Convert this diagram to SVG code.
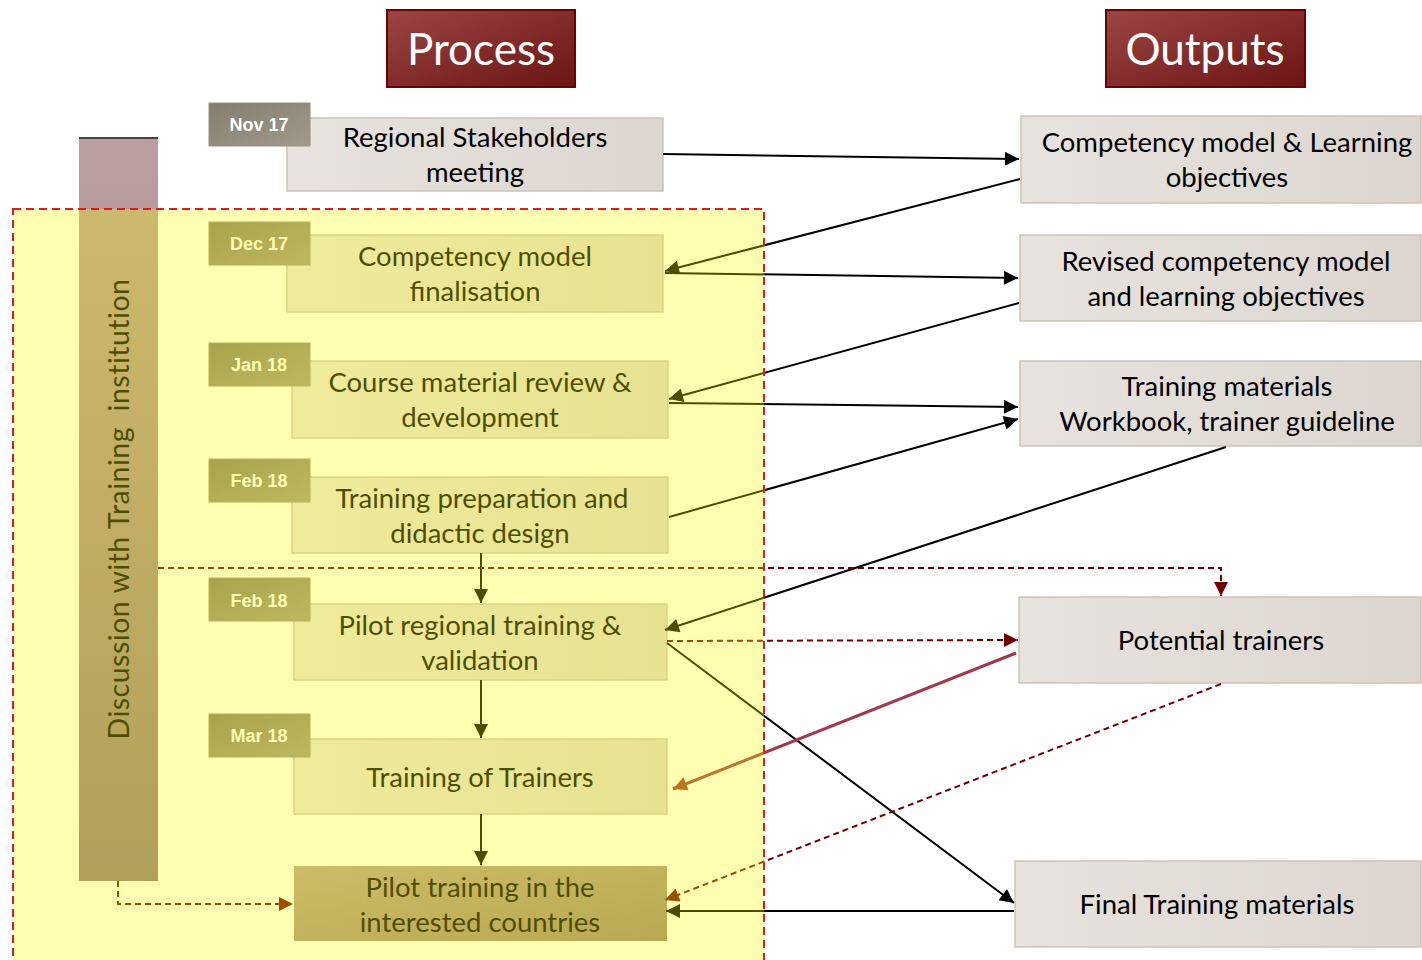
<svg xmlns="http://www.w3.org/2000/svg" width="1422" height="960" viewBox="0 0 1422 960">
<style>
.t{font-family:Lato,"Open Sans",sans-serif;font-size:27.5px;fill:#000;text-anchor:middle;}
.v{font-family:Lato,"Open Sans",sans-serif;font-size:28.5px;letter-spacing:0.5px;fill:#000;text-anchor:middle;white-space:pre;}
.h{font-family:Lato,"Open Sans",sans-serif;font-size:44px;fill:#fff;text-anchor:middle;}
.d{font-family:"Liberation Sans",Arial,sans-serif;font-size:18px;font-weight:bold;fill:#fff;text-anchor:middle;}
.box{fill:url(#gGray);stroke:#cbc3bb;stroke-width:1.5;}
.tag{fill:url(#gTag);stroke:#9a927f;stroke-width:1;}
.hdr{fill:url(#gRed);stroke:#6e0000;stroke-width:2;}
.c{fill:none;stroke:#000;stroke-width:2;}
.cd{fill:none;stroke:#700000;stroke-width:2;stroke-dasharray:6,4;}
</style>
<defs>
<linearGradient id="gGray" x1="0" y1="0" x2="1" y2="0"><stop offset="0" stop-color="#e8e3de"/><stop offset="1" stop-color="#ddd6d0"/></linearGradient>
<linearGradient id="gTag" x1="0" y1="0" x2="1" y2="1"><stop offset="0" stop-color="#847c6c"/><stop offset="1" stop-color="#a29a8a"/></linearGradient>
<linearGradient id="gRed" x1="0" y1="0" x2="1" y2="1"><stop offset="0" stop-color="#9c4545"/><stop offset="1" stop-color="#6a1414"/></linearGradient>
<linearGradient id="gBar" x1="0" y1="0" x2="0" y2="1"><stop offset="0" stop-color="#bc9fa0"/><stop offset="1" stop-color="#917780"/></linearGradient>
<linearGradient id="gGold" x1="0" y1="0" x2="1" y2="1"><stop offset="0" stop-color="#b8a094"/><stop offset="1" stop-color="#9a8474"/></linearGradient>
<marker id="aB" viewBox="0 0 10 10" refX="10" refY="5" markerWidth="16" markerHeight="14" markerUnits="userSpaceOnUse" orient="auto"><path d="M0,0 L10,5 L0,10 z" fill="#000"/></marker>
<marker id="aR" viewBox="0 0 10 10" refX="10" refY="5" markerWidth="16" markerHeight="14" markerUnits="userSpaceOnUse" orient="auto"><path d="M0,0 L10,5 L0,10 z" fill="#700000"/></marker>
<marker id="aP" viewBox="0 0 10 10" refX="10" refY="5" markerWidth="16" markerHeight="14" markerUnits="userSpaceOnUse" orient="auto"><path d="M0,0 L10,5 L0,10 z" fill="#a03a2a"/></marker>
</defs>
<rect width="1422" height="960" fill="#fff"/>

<g id="header-process"><rect class="hdr" x="387" y="10" width="188" height="77"/><text class="h" x="481" y="65">Process</text></g>
<g id="header-outputs"><rect class="hdr" x="1106" y="10" width="199" height="77"/><text class="h" x="1205" y="65">Outputs</text></g>

<g id="bar"><rect x="79" y="137" width="79" height="744" fill="url(#gBar)"/><line x1="79" y1="138" x2="158" y2="138" stroke="#444" stroke-width="2"/>
<text class="v" transform="translate(129,509) rotate(-90)" xml:space="preserve">Discussion with Training  institution</text></g>

<g id="p1"><rect class="box" x="287" y="118" width="376" height="73"/><text class="t" x="475" y="147">Regional Stakeholders</text><text class="t" x="475" y="182">meeting</text></g>
<g id="p2"><rect class="box" x="287" y="235" width="376" height="77"/><text class="t" x="475" y="266">Competency model</text><text class="t" x="475" y="301">finalisation</text></g>
<g id="p3"><rect class="box" x="292" y="361" width="376" height="77"/><text class="t" x="480" y="392">Course material review &amp;</text><text class="t" x="480" y="427">development</text></g>
<g id="p4"><rect class="box" x="292" y="477" width="376" height="76"/><text class="t" x="482" y="508">Training preparation and</text><text class="t" x="480" y="543">didactic design</text></g>
<g id="p5"><rect class="box" x="294" y="604" width="373" height="76"/><text class="t" x="480" y="635">Pilot regional training &amp;</text><text class="t" x="480" y="670">validation</text></g>
<g id="p6"><rect class="box" x="294" y="739" width="373" height="75"/><text class="t" x="480" y="787">Training of Trainers</text></g>
<g id="p7"><rect x="294" y="866" width="373" height="75" fill="url(#gGold)"/><text class="t" x="480" y="897">Pilot training in the</text><text class="t" x="480" y="932">interested countries</text></g>

<g id="tags">
<g id="t1"><rect class="tag" x="209" y="103" width="101" height="43"/><text class="d" x="259" y="131">Nov 17</text></g>
<g id="t2"><rect class="tag" x="209" y="222" width="101" height="43"/><text class="d" x="259" y="250">Dec 17</text></g>
<g id="t3"><rect class="tag" x="209" y="343" width="101" height="43"/><text class="d" x="259" y="371">Jan 18</text></g>
<g id="t4"><rect class="tag" x="209" y="459" width="101" height="43"/><text class="d" x="259" y="487">Feb 18</text></g>
<g id="t5"><rect class="tag" x="209" y="578" width="101" height="43"/><text class="d" x="259" y="607">Feb 18</text></g>
<g id="t6"><rect class="tag" x="209" y="714" width="101" height="43"/><text class="d" x="259" y="742">Mar 18</text></g>
</g>

<g id="o1"><rect class="box" x="1021" y="116" width="400" height="87"/><text class="t" x="1227" y="152">Competency model &amp; Learning</text><text class="t" x="1227" y="187">objectives</text></g>
<g id="o2"><rect class="box" x="1020" y="235" width="401" height="86"/><text class="t" x="1226" y="271">Revised competency model</text><text class="t" x="1226" y="306">and learning objectives</text></g>
<g id="o3"><rect class="box" x="1020" y="361" width="401" height="85"/><text class="t" x="1227" y="396">Training materials</text><text class="t" x="1227" y="431">Workbook, trainer guideline</text></g>
<g id="o4"><rect class="box" x="1019" y="597" width="402" height="86"/><text class="t" x="1221" y="650">Potential trainers</text></g>
<g id="o5"><rect class="box" x="1015" y="861" width="406" height="86"/><text class="t" x="1217" y="914">Final Training materials</text></g>

<g id="connectors">
<line class="c" x1="663" y1="154" x2="1019" y2="159" marker-end="url(#aB)"/>
<line class="c" x1="1020" y1="179" x2="665" y2="271" marker-end="url(#aB)"/>
<line class="c" x1="665" y1="273" x2="1018" y2="278" marker-end="url(#aB)"/>
<line class="c" x1="1019" y1="303" x2="669" y2="399" marker-end="url(#aB)"/>
<line class="c" x1="669" y1="403" x2="1018" y2="407" marker-end="url(#aB)"/>
<line class="c" x1="669" y1="517" x2="1018" y2="419" marker-end="url(#aB)"/>
<line class="c" x1="1226" y1="447" x2="665" y2="630" marker-end="url(#aB)"/>
<line class="c" x1="667" y1="643" x2="1014" y2="903" marker-end="url(#aB)"/>
<line class="c" x1="1014" y1="911" x2="666" y2="911" marker-end="url(#aB)"/>
<line class="c" x1="481" y1="553" x2="481" y2="603" marker-end="url(#aB)"/>
<line class="c" x1="481" y1="680" x2="481" y2="738" marker-end="url(#aB)"/>
<line class="c" x1="481" y1="814" x2="481" y2="865" marker-end="url(#aB)"/>
<line x1="1016" y1="653" x2="673" y2="789" stroke="#a03a4a" stroke-width="3" marker-end="url(#aP)"/>
<line class="cd" x1="667" y1="641" x2="1018" y2="640" marker-end="url(#aR)"/>
<line class="cd" x1="1221" y1="684" x2="665" y2="900" marker-end="url(#aR)"/>
<polyline class="cd" points="158,568 1221,568 1221,596" marker-end="url(#aR)"/>
<polyline class="cd" points="118,881 118,904 293,904" marker-end="url(#aR)"/>
</g>

<g id="zone">
<rect x="13" y="209" width="751" height="760" fill="#ffff00" fill-opacity="0.3"/>
<rect x="13" y="209" width="751" height="760" fill="none" stroke="#d42020" stroke-width="2" stroke-dasharray="8,5"/>
</g>
</svg>
